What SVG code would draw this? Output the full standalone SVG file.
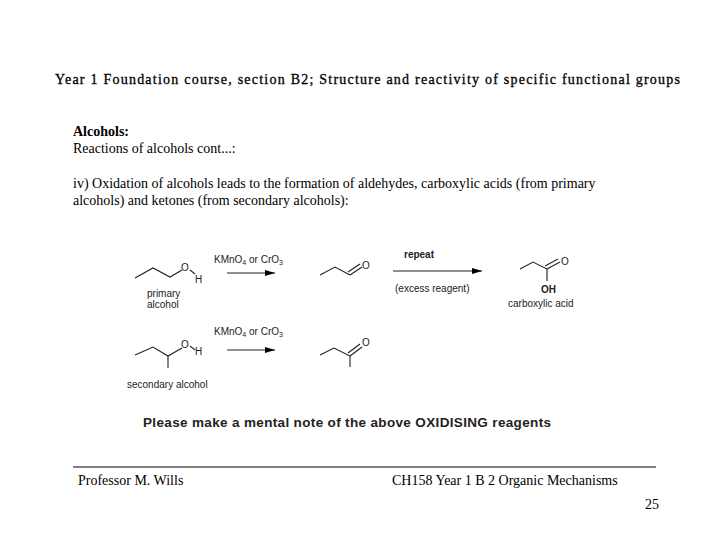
<svg xmlns="http://www.w3.org/2000/svg" width="720" height="540" viewBox="0 0 720 540">
<defs>
<marker id="ah" markerWidth="10" markerHeight="6" refX="10" refY="3" orient="auto" markerUnits="userSpaceOnUse"><path d="M0,0 L10,3 L0,6 z" fill="#000"/></marker>
<style>
.t{font-family:"Liberation Serif",serif;font-size:14px;fill:#000}
.s{font-family:"Liberation Sans",sans-serif;font-size:10px;fill:#222}
.b{fill:none;stroke:#222;stroke-width:1.1}
</style>
</defs>
<rect width="720" height="540" fill="#fff"/>
<text class="t" x="55" y="84" font-size="15" stroke="#000" stroke-width="0.3" textLength="625" lengthAdjust="spacing">Year 1 Foundation course, section B2; Structure and reactivity of specific functional groups</text>
<text class="t" x="73" y="136" font-weight="bold" font-size="13">Alcohols:</text>
<text class="t" x="73" y="153" font-size="13">Reactions of alcohols cont...:</text>
<text class="t" x="73" y="188" font-size="13">iv) Oxidation of alcohols leads to the formation of aldehydes, carboxylic acids (from primary</text>
<text class="t" x="73" y="205" font-size="13">alcohols) and ketones (from secondary alcohols):</text>
<g id="primary">
<polyline class="b" points="135,278 153,268 170,277 182,270"/>
<text class="s" x="181" y="271" font-size="11">O</text>
<text class="s" x="195" y="283">H</text>
<line class="b" x1="190" y1="270" x2="195" y2="274"/>
<text class="s" x="147" y="297">primary</text>
<text class="s" x="147" y="308">alcohol</text>
</g>
<g id="aldehyde">
<polyline class="b" points="320,275 335,267 350,275"/>
<line class="b" x1="350" y1="275" x2="362" y2="267"/>
<line class="b" x1="348" y1="272" x2="360" y2="264"/>
<text class="s" x="362" y="269" font-size="11">O</text>
</g>
<g id="acid">
<polyline class="b" points="520,269 533,262 547,269 547,281"/>
<line class="b" x1="547" y1="269" x2="560" y2="262"/>
<line class="b" x1="545" y1="266" x2="558" y2="259"/>
<text class="s" x="561" y="265" font-size="11">O</text>
<text class="s" x="541" y="293" font-weight="bold">OH</text>
<text class="s" x="508" y="307">carboxylic acid</text>
</g>
<g id="secondary">
<polyline class="b" points="135,355 153,347 168,356 182,348"/>
<line class="b" x1="168" y1="356" x2="168" y2="368"/>
<text class="s" x="181" y="348" font-size="11">O</text>
<line class="b" x1="190" y1="346" x2="195" y2="350"/>
<text class="s" x="195" y="355">H</text>
<text class="s" x="127" y="388">secondary alcohol</text>
</g>
<g id="ketone">
<polyline class="b" points="320,355 334,348 350,356 350,367"/>
<line class="b" x1="350" y1="356" x2="362" y2="347"/>
<line class="b" x1="348" y1="353" x2="360" y2="344"/>
<text class="s" x="362" y="346" font-size="11">O</text>
</g>
<g id="connectors">
<line class="b" x1="227" y1="273" x2="275" y2="273" marker-end="url(#ah)"/>
<line class="b" x1="393" y1="271" x2="482" y2="271" marker-end="url(#ah)"/>
<line class="b" x1="227" y1="350" x2="275" y2="350" marker-end="url(#ah)"/>
</g>
<text class="s" x="214" y="263">KMnO<tspan font-size="7" dy="2">4</tspan><tspan dy="-2"> or CrO</tspan><tspan font-size="7" dy="2">3</tspan></text>
<text class="s" x="214" y="335">KMnO<tspan font-size="7" dy="2">4</tspan><tspan dy="-2"> or CrO</tspan><tspan font-size="7" dy="2">3</tspan></text>
<text class="s" x="404" y="258" font-weight="bold">repeat</text>
<text class="s" x="395" y="292">(excess reagent)</text>
<text x="143" y="427" font-family="Liberation Sans,sans-serif" font-size="13.5" font-weight="bold" fill="#222" textLength="408" lengthAdjust="spacing">Please make a mental note  of the above OXIDISING reagents</text>
<line x1="73" y1="467" x2="656" y2="467" stroke="#000" stroke-width="1"/>
<text class="t" x="78" y="485" font-size="13">Professor M. Wills</text>
<text class="t" x="392" y="485" font-size="13">CH158 Year 1 B 2 Organic Mechanisms</text>
<text class="t" x="645" y="509" font-size="13">25</text>
</svg>
